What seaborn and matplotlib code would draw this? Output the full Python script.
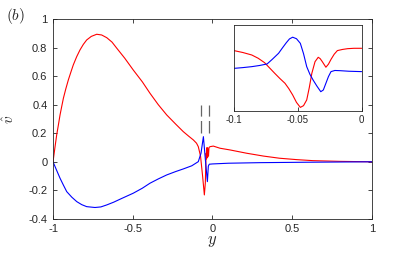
import numpy as np
import matplotlib
matplotlib.use("Agg")
import matplotlib.pyplot as plt
import seaborn as sns

# main curves
y_red = [-1.0, -0.988, -0.977, -0.966, -0.956, -0.945, -0.935, -0.92, -0.904, -0.888, -0.873,
         -0.852, -0.831, -0.81, -0.789, -0.76, -0.726, -0.695, -0.663, -0.63, -0.60, -0.55,
         -0.497, -0.44, -0.392, -0.34, -0.287, -0.23, -0.183, -0.15, -0.12, -0.10, -0.089,
         -0.075, -0.062, -0.051, -0.045, -0.040, -0.037, -0.034, -0.031, -0.028, -0.025,
         -0.022, -0.015, 0.005, 0.047, 0.11, 0.214, 0.32, 0.42, 0.53, 0.63, 0.8, 1.0]
v_red = [0.0, 0.10, 0.188, 0.26, 0.328, 0.39, 0.445, 0.51, 0.573, 0.628, 0.678,
         0.735, 0.783, 0.822, 0.853, 0.878, 0.893, 0.888, 0.869, 0.838, 0.795, 0.725,
         0.643, 0.56, 0.48, 0.40, 0.328, 0.263, 0.211, 0.18, 0.153, 0.13, 0.106,
         0.04, -0.10, -0.232, -0.15, 0.06, 0.02, 0.10, 0.03, 0.09, 0.04,
         0.10, 0.106, 0.11, 0.095, 0.083, 0.06, 0.04, 0.025, 0.015, 0.008, 0.003, 0.0]

y_blue = [-1.0, -0.978, -0.956, -0.935, -0.914, -0.882, -0.851, -0.82, -0.789, -0.737, -0.70,
          -0.663, -0.62, -0.57, -0.497, -0.44, -0.392, -0.34, -0.287, -0.23, -0.183, -0.13,
          -0.089, -0.072, -0.057, -0.045, -0.032, -0.026, -0.02, 0.0, 0.1, 0.3, 0.6, 1.0]
v_blue = [0.0, -0.058, -0.115, -0.163, -0.209, -0.248, -0.279, -0.30, -0.314, -0.32, -0.316,
          -0.302, -0.283, -0.257, -0.22, -0.185, -0.15, -0.12, -0.092, -0.068, -0.05, -0.028,
          0.001, 0.06, 0.176, 0.02, -0.139, -0.03, -0.017, -0.015, -0.01, -0.006, -0.003, 0.0]

# inset (zoom on -0.1 < y < 0)
yi_red = [-0.1, -0.093, -0.086, -0.081, -0.076, -0.072, -0.068, -0.064, -0.060, -0.057, -0.054,
          -0.051, -0.048, -0.0455, -0.043, -0.041, -0.039, -0.0365, -0.034, -0.0325, -0.031,
          -0.028, -0.026, -0.024, -0.0215, -0.019, -0.015, -0.011, -0.006, 0.0]
vi_red = [0.066, 0.056, 0.043, 0.026, 0.003, -0.025, -0.053, -0.080, -0.105, -0.133, -0.166,
          -0.205, -0.231, -0.222, -0.192, -0.128, -0.053, 0.008, 0.031, 0.024, 0.010,
          -0.021, -0.005, 0.02, 0.047, 0.066, 0.072, 0.076, 0.078, 0.078]
yi_blue = [-0.1, -0.093, -0.086, -0.08, -0.074, -0.07, -0.065, -0.062, -0.059, -0.0565, -0.054,
           -0.051, -0.048, -0.0455, -0.043, -0.0405, -0.038, -0.035, -0.032, -0.030, -0.028,
           -0.026, -0.024, -0.021, -0.017, -0.01, 0.0]
vi_blue = [-0.027, -0.023, -0.018, -0.012, -0.004, 0.02, 0.052, 0.08, 0.107, 0.127, 0.136,
           0.128, 0.104, 0.05, -0.018, -0.058, -0.088, -0.12, -0.149, -0.14, -0.105,
           -0.07, -0.044, -0.038, -0.039, -0.042, -0.044]

# dashed markers
dash_x = [-0.07, -0.023]

sns.set_style("ticks")
plt.rcParams["font.family"] = ["Liberation Sans", "DejaVu Sans"]
plt.rcParams["mathtext.fontset"] = "cm"

fig = plt.figure(figsize=(4.11, 2.6), dpi=100)
ax = fig.add_axes([0.129, 0.158, 0.776, 0.769])

sns.lineplot(x=y_red, y=v_red, color="#ff0000", lw=0.8, ax=ax, sort=False)
sns.lineplot(x=y_blue, y=v_blue, color="#0000ff", lw=0.8, ax=ax, sort=False)
for xd in dash_x:
    ax.plot([xd, xd], [0.2, 0.4], color="0.4", lw=0.9, ls=(0, (10, 3.5)))

ax.set_xlim(-1, 1)
ax.set_ylim(-0.4, 1)
ax.set_xticks([-1, -0.5, 0, 0.5, 1])
ax.set_xticklabels(["-1", "-0.5", "0", "0.5", "1"])
ax.set_yticks([-0.4, -0.2, 0, 0.2, 0.4, 0.6, 0.8, 1])
ax.set_yticklabels(["-0.4", "-0.2", "0", "0.2", "0.4", "0.6", "0.8", "1"])
ax.tick_params(direction="in", top=True, right=True, length=3, width=0.6,
               labelsize=8, colors="0.15", pad=4)
for s in ax.spines.values():
    s.set_color("0.15")
    s.set_linewidth(0.6)
ax.set_xlabel("$y$", fontsize=12, labelpad=0)
ax.set_ylabel(r"$\hat{v}$", fontsize=11, labelpad=8)
fig.text(0.015, 0.925, "$(b)$", fontsize=11)

ins = fig.add_axes([0.569, 0.573, 0.311, 0.331])
sns.lineplot(x=yi_red, y=vi_red, color="#ff0000", lw=0.8, ax=ins, sort=False)
sns.lineplot(x=yi_blue, y=vi_blue, color="#0000ff", lw=0.8, ax=ins, sort=False)
ins.set_xlim(-0.1, 0)
ins.set_ylim(-0.25, 0.2)
ins.set_xticks([-0.1, -0.05, 0])
ins.set_xticklabels(["-0.1", "-0.05", "0"])
ins.set_yticks([])
ins.tick_params(direction="in", length=3, width=0.6, labelsize=7, colors="0.15", pad=3)
for s in ins.spines.values():
    s.set_color("0.15")
    s.set_linewidth(0.6)

fig.savefig("out.png", dpi=100)
